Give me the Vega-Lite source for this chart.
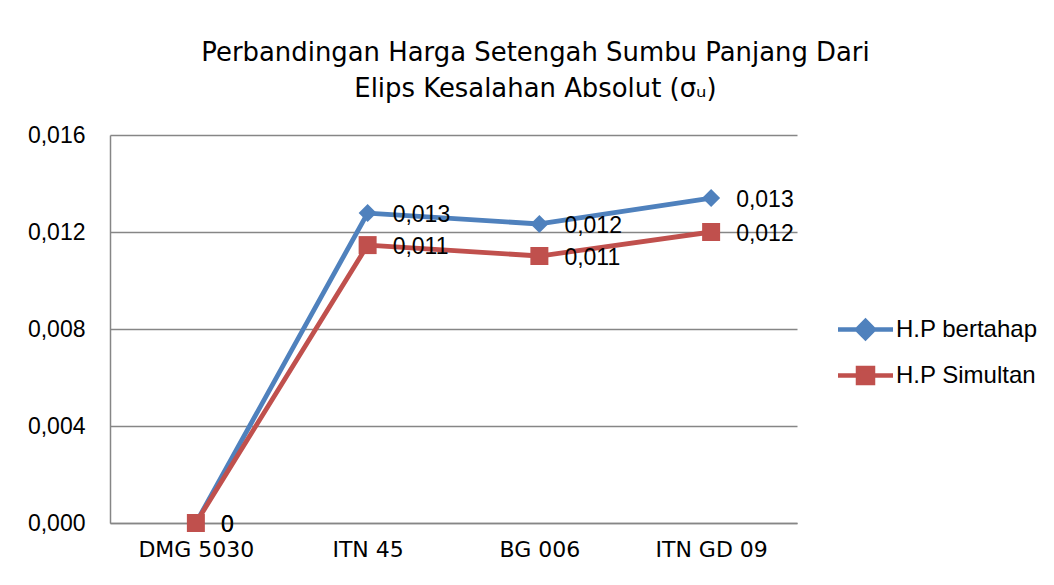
{
  "$schema": "https://vega.github.io/schema/vega-lite/v6.json",
  "width": 687,
  "height": 388,
  "autosize": {"type": "none"},
  "padding": {"left": 110, "top": 135, "right": 257, "bottom": 62},
  "background": "white",
  "config": {
    "locale": {"number": {"decimal": ",", "thousands": ".", "grouping": [3], "currency": ["", ""]}},
    "view": {"stroke": null}
  },
  "title": {
    "text": ["Perbandingan Harga Setengah Sumbu Panjang Dari", "Elips Kesalahan Absolut (σᵤ)"],
    "font": "DejaVu Sans",
    "fontSize": 25.9,
    "fontWeight": "normal",
    "color": "black",
    "anchor": "middle",
    "frame": "group",
    "dx": 82,
    "offset": 21,
    "lineHeight": 36
  },
  "data": {
    "values": [
      {"station": "DMG 5030", "series": "H.P bertahap", "v": 0},
      {"station": "ITN 45", "series": "H.P bertahap", "v": 0.01278},
      {"station": "BG 006", "series": "H.P bertahap", "v": 0.01233},
      {"station": "ITN GD 09", "series": "H.P bertahap", "v": 0.0134},
      {"station": "DMG 5030", "series": "H.P Simultan", "v": 0},
      {"station": "ITN 45", "series": "H.P Simultan", "v": 0.01146},
      {"station": "BG 006", "series": "H.P Simultan", "v": 0.01101},
      {"station": "ITN GD 09", "series": "H.P Simultan", "v": 0.012}
    ]
  },
  "encoding": {
    "x": {
      "field": "station", "type": "nominal", "sort": null,
      "scale": {"type": "point", "padding": 0.5},
      "axis": {
        "title": null, "labelAngle": 0, "ticks": false, "grid": false,
        "domainColor": "#868686", "domainWidth": 1.5,
        "labelFont": "DejaVu Sans", "labelFontSize": 22, "labelColor": "black",
        "labelPadding": 16
      }
    },
    "y": {
      "field": "v", "type": "quantitative",
      "scale": {"domain": [0, 0.016], "nice": false},
      "axis": {
        "title": null, "values": [0, 0.004, 0.008, 0.012, 0.016], "format": ".3f",
        "ticks": false, "gridColor": "#868686", "gridWidth": 1.5,
        "domainColor": "#868686", "domainWidth": 1.5,
        "labelFont": "Liberation Sans", "labelFontSize": 23, "labelColor": "black",
        "labelPadding": 25
      }
    }
  },
  "layer": [
    {
      "mark": {"type": "point", "filled": true, "opacity": 1, "size": 0, "strokeWidth": 0},
      "encoding": {
        "fill": {
          "field": "series", "type": "nominal", "sort": null,
          "scale": {"domain": ["H.P bertahap", "H.P Simultan"], "range": ["#4F81BD", "#C0504D"]}
        },
        "stroke": {
          "field": "series", "type": "nominal", "sort": null,
          "scale": {"domain": ["H.P bertahap", "H.P Simultan"], "range": ["#4F81BD", "#C0504D"]}
        },
        "shape": {
          "field": "series", "type": "nominal", "sort": null,
          "scale": {"domain": ["H.P bertahap", "H.P Simultan"], "range": ["M-2.75,0L-0.85,0L0,-0.85L0.85,0L2.75,0M0.85,0L0,0.85L-0.85,0Z", "M-2.75,0L-0.75,0L-0.75,-0.75L0.75,-0.75L0.75,0L2.75,0M0.75,0L0.75,0.75L-0.75,0.75L-0.75,0Z"]},
          "legend": {
            "title": null, "orient": "none", "legendX": 743, "legendY": 182,
            "symbolSize": 400, "symbolStrokeWidth": 4.5, "symbolOpacity": 1,
            "labelFont": "Liberation Sans", "labelFontSize": 24, "labelColor": "black",
            "labelOffset": 18, "rowPadding": 12
          }
        }
      }
    },
    {
      "mark": {"type": "line", "strokeWidth": 4.8, "strokeCap": "round", "strokeJoin": "round"},
      "encoding": {
        "color": {
          "field": "series", "type": "nominal", "sort": null,
          "scale": {"domain": ["H.P bertahap", "H.P Simultan"], "range": ["#4F81BD", "#C0504D"]},
          "legend": null
        }
      }
    },
    {
      "transform": [{"filter": "datum.series === 'H.P bertahap'"}],
      "mark": {"type": "point", "filled": true, "opacity": 1, "size": 324, "shape": "diamond", "color": "#4F81BD"}
    },
    {
      "transform": [{"filter": "datum.series === 'H.P Simultan'"}],
      "mark": {"type": "point", "filled": true, "opacity": 1, "size": 324, "shape": "square", "color": "#C0504D"}
    },
    {
      "mark": {"type": "text", "align": "left", "baseline": "middle", "dx": 25, "dy": 2, "font": "Liberation Sans", "fontSize": 23, "color": "black"},
      "encoding": {
        "text": {"field": "v", "type": "quantitative", "format": ".3~f"}
      }
    }
  ]
}
